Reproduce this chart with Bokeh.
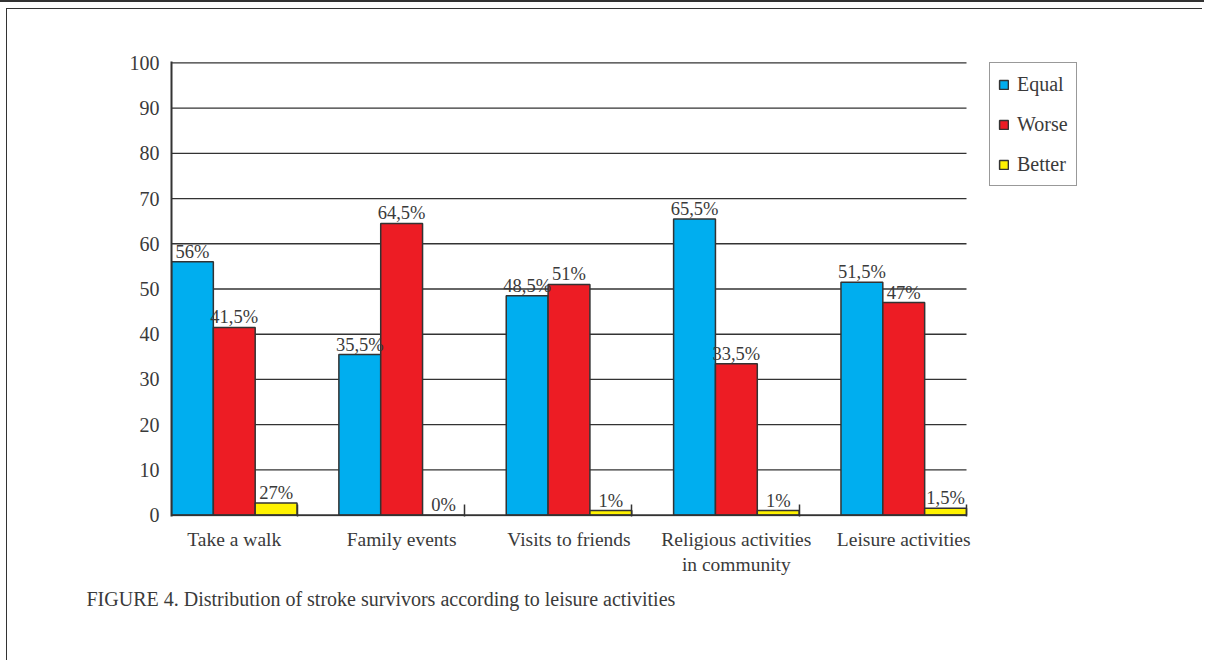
from bokeh.plotting import figure
from bokeh.models import (ColumnDataSource, FixedTicker, LabelSet, Legend,
                          LegendItem, InlineStyleSheet, Title, Range1d)
from bokeh.embed import file_html
from bokeh.resources import INLINE

categories = ["Take a walk", "Family events", "Visits to friends",
              "Religious activities\nin community", "Leisure activities"]
series_names = ["Equal", "Worse", "Better"]
equal = [56, 35.5, 48.5, 65.5, 51.5]
worse = [41.5, 64.5, 51, 33.5, 47]
better = [2.7, 0, 1, 1, 1.5]
equal_labels = ["56%", "35,5%", "48,5%", "65,5%", "51,5%"]
worse_labels = ["41,5%", "64,5%", "51%", "33,5%", "47%"]
better_labels = ["27%", "0%", "1%", "1%", "1,5%"]
y_ticks = [0, 10, 20, 30, 40, 50, 60, 70, 80, 90, 100]
caption = "FIGURE 4. Distribution of stroke survivors according to leisure activities"

colors = ["#00AEEF", "#ED1C24", "#FFF200"]
FONT = "Liberation Serif"
TXT = "#3a3a3a"
LINE = "#333333"

bw = 0.25
n = len(categories)
x_data_end = n - 1 + 3 * bw            # right end of the bar area
px_per_unit = 795 / x_data_end
frame_w = 1016
W, H = 1196, 652
ML, MT = 164, 52
frame_h = 455
pad_y = 0.3

p = figure(width=W, height=H, output_backend="svg", toolbar_location=None,
           x_range=Range1d(0, frame_w / px_per_unit),
           y_range=Range1d(-pad_y, 100 + pad_y),
           min_border_left=ML, min_border_right=W - ML - frame_w, min_border_top=MT,
           min_border_bottom=H - MT - frame_h)
p.styles = {"margin-left": "6px", "margin-top": "8px",
            "border-left": "1.5px solid #333333", "border-top": "1.5px solid #333333"}
p.stylesheets = [InlineStyleSheet(css=":host::before{content:'';position:absolute;"
                                      "left:-8px;top:-9px;width:1205px;height:0;"
                                      "border-top:2px solid #333333;}")]
p.outline_line_color = None
p.background_fill_color = "white"
p.border_fill_color = "white"
p.xgrid.grid_line_color = None
p.ygrid.grid_line_color = None

# horizontal gridlines limited to the bar area
gy = y_ticks[1:]
p.segment(x0=[0] * len(gy), x1=[x_data_end] * len(gy), y0=gy, y1=gy,
          line_color=LINE, line_width=1.3, level="underlay")

renderers = []
for k, (vals, labs, col) in enumerate(zip([equal, worse, better],
                                           [equal_labels, worse_labels, better_labels],
                                           colors)):
    xs = [i + (k + 0.5) * bw for i in range(n)]
    src = ColumnDataSource(dict(x=xs, top=vals, lab=labs))
    r = p.vbar(x="x", top="top", width=bw, bottom=0, source=src, fill_color=col,
               line_color=LINE, line_width=1.5)
    renderers.append(r)
    ls = LabelSet(x="x", y="top", text="lab", source=src, text_align="center",
                  text_baseline="bottom", y_offset=0, text_font=FONT,
                  text_font_size="18.5px", text_color=TXT)
    p.add_layout(ls)

# baseline (x axis line) limited to the bar area
p.segment(x0=[0], x1=[x_data_end], y0=[0], y1=[0], line_color=LINE, line_width=2)

# axes
p.xaxis.ticker = FixedTicker(ticks=[i + 1.5 * bw for i in range(n)],
                             minor_ticks=[i + 3 * bw for i in range(n)])
p.xaxis.major_label_overrides = {i + 1.5 * bw: c for i, c in enumerate(categories)}
p.xaxis.major_tick_line_color = None
p.xaxis.major_tick_in = 0
p.xaxis.major_tick_out = 0
p.xaxis.minor_tick_in = 12
p.xaxis.minor_tick_out = 0
p.xaxis.minor_tick_line_color = LINE
p.xaxis.minor_tick_line_width = 1.5
p.xaxis.axis_line_color = None
p.xaxis.major_label_text_font = FONT
p.xaxis.major_label_text_font_size = "19.5px"
p.xaxis.major_label_text_color = TXT
p.xaxis.major_label_standoff = 12

p.yaxis.ticker = FixedTicker(ticks=y_ticks)
p.yaxis.major_tick_line_color = None
p.yaxis.major_tick_in = 0
p.yaxis.major_tick_out = 0
p.yaxis.minor_tick_line_color = None
p.yaxis.axis_line_color = LINE
p.yaxis.axis_line_width = 2
p.yaxis.major_label_text_font = FONT
p.yaxis.major_label_text_font_size = "20px"
p.yaxis.major_label_text_color = TXT
p.yaxis.major_label_standoff = 12

# legend (inside the widened frame, right of the bars)
lg = Legend(items=[LegendItem(label=nm, renderers=[r]) for nm, r in zip(series_names, renderers)],
            location=(818, 330), orientation="vertical")
lg.border_line_color = LINE
lg.border_line_width = 1.5
lg.background_fill_alpha = 1
lg.padding = 8
lg.spacing = 14
lg.margin = 0
lg.glyph_width = 11
lg.glyph_height = 11
lg.label_height = 26
lg.label_standoff = 8
lg.label_text_font = FONT
lg.label_text_font_size = "20px"
lg.label_text_color = TXT
p.add_layout(lg, "center")

# caption
cap = Title(text=caption, align="left", offset=-85, standoff=16, text_font=FONT,
            text_font_size="20px", text_color=TXT, text_font_style="normal")
p.add_layout(cap, "below")

open("out.html", "w").write(file_html(p, INLINE))
